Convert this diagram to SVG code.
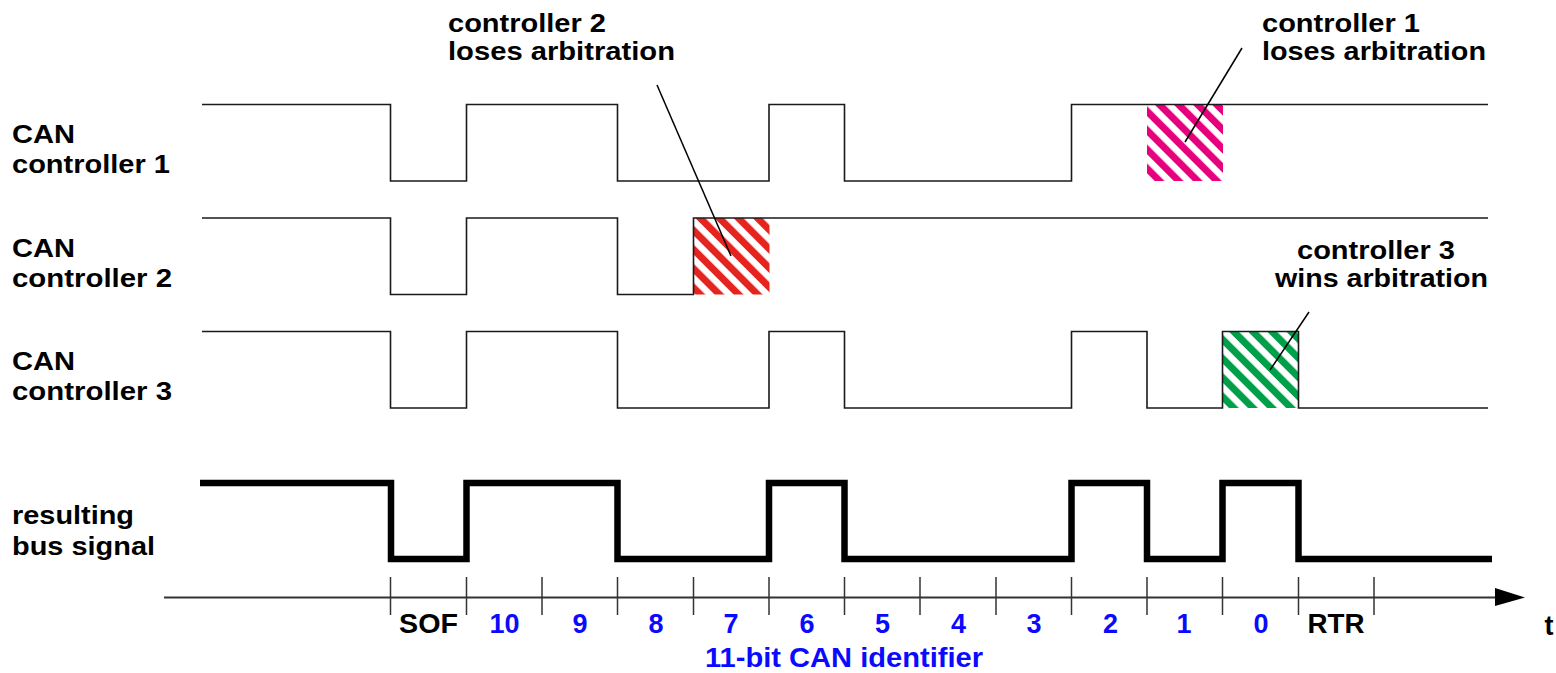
<svg xmlns="http://www.w3.org/2000/svg" width="1556" height="673" viewBox="0 0 1556 673">
<style>
  .lbl { font-family: "Liberation Sans", Arial, sans-serif; font-weight: bold; font-size: 25px; fill: #000; }
  .tick { font-family: "Liberation Sans", Arial, sans-serif; font-weight: bold; font-size: 27px; text-anchor: middle; }
  .blk { fill: #000; }
  .blu { fill: #0a0aff; }
  .sig { fill: none; stroke: #1a1a1a; stroke-width: 1.6; stroke-linejoin: miter; }
  .bus { fill: none; stroke: #000; stroke-width: 6.5; stroke-linejoin: miter; stroke-linecap: butt; }
  .axis { fill: none; stroke: #333; stroke-width: 2; }
  .tk { stroke: #333; stroke-width: 1.5; }
  .lead { stroke: #000; stroke-width: 1.5; fill: none; }
</style>
<defs>
  <pattern id="hatchPink" patternUnits="userSpaceOnUse" width="13.5" height="13.5" patternTransform="rotate(-45)">
    <rect width="13.5" height="13.5" fill="#fff"/><rect width="7" height="13.5" fill="#e6007e"/>
  </pattern>
  <pattern id="hatchRed" patternUnits="userSpaceOnUse" width="13.5" height="13.5" patternTransform="rotate(-45)">
    <rect width="13.5" height="13.5" fill="#fff"/><rect width="7" height="13.5" fill="#e52420"/>
  </pattern>
  <pattern id="hatchGreen" patternUnits="userSpaceOnUse" width="13.5" height="13.5" patternTransform="rotate(-45)">
    <rect width="13.5" height="13.5" fill="#fff"/><rect width="7" height="13.5" fill="#00a04a"/>
  </pattern>
</defs>

<g id="labels">
  <text class="lbl" x="12" y="143" textLength="63" lengthAdjust="spacingAndGlyphs">CAN</text>
  <text class="lbl" x="12" y="173" textLength="158" lengthAdjust="spacingAndGlyphs">controller 1</text>
  <text class="lbl" x="12" y="257" textLength="63" lengthAdjust="spacingAndGlyphs">CAN</text>
  <text class="lbl" x="12" y="287" textLength="160" lengthAdjust="spacingAndGlyphs">controller 2</text>
  <text class="lbl" x="12" y="370" textLength="63" lengthAdjust="spacingAndGlyphs">CAN</text>
  <text class="lbl" x="12" y="400" textLength="160" lengthAdjust="spacingAndGlyphs">controller 3</text>
  <text class="lbl" x="12" y="524" textLength="122" lengthAdjust="spacingAndGlyphs">resulting</text>
  <text class="lbl" x="12" y="555" textLength="143" lengthAdjust="spacingAndGlyphs">bus signal</text>
</g>

<g id="arbitration-boxes">
  <rect id="box-c1" x="1147" y="105" width="76" height="76" fill="url(#hatchPink)"/>
  <rect id="box-c2" x="693.5" y="218" width="76" height="76.5" fill="url(#hatchRed)"/>
  <rect id="box-c3" x="1222.5" y="331.5" width="76" height="76.5" fill="url(#hatchGreen)"/>
</g>

<g id="controller1">
  <path class="sig" d="M202,104.5 H390.5 V181 H466.5 V104.5 H617.5 V181 H769 V104.5 H844.5 V181 H1071.5 V104.5 H1488"/>
</g>
<g id="controller2">
  <path class="sig" d="M202,218 H390.5 V294.5 H466.5 V218 H617.5 V294.5 H693.5 V218 H1488"/>
</g>
<g id="controller3">
  <path class="sig" d="M202,331.5 H390.5 V408 H466.5 V331.5 H617.5 V408 H769 V331.5 H844.5 V408 H1071.5 V331.5 H1147 V408 H1222.5 V331.5 H1298.5 V408 H1488"/>
</g>
<g id="bus">
  <path class="bus" d="M200,483 H391 V559 H466.5 V483 H617.5 V559 H769 V483 H844.5 V559 H1071.5 V483 H1147 V559 H1222.5 V483 H1298.5 V559 H1492"/>
</g>

<g id="annotations">
  <text class="lbl" x="448" y="32" textLength="158" lengthAdjust="spacingAndGlyphs">controller 2</text>
  <text class="lbl" x="448" y="60" textLength="227" lengthAdjust="spacingAndGlyphs">loses arbitration</text>
  <text class="lbl" x="1262" y="32" textLength="158" lengthAdjust="spacingAndGlyphs">controller 1</text>
  <text class="lbl" x="1262" y="60" textLength="224" lengthAdjust="spacingAndGlyphs">loses arbitration</text>
  <text class="lbl" x="1297" y="259" textLength="158" lengthAdjust="spacingAndGlyphs">controller 3</text>
  <text class="lbl" x="1275" y="287" textLength="213" lengthAdjust="spacingAndGlyphs">wins arbitration</text>
</g>

<g id="connectors">
  <line class="lead" x1="657" y1="85" x2="731" y2="256"/>
  <line class="lead" x1="1242" y1="48" x2="1185" y2="142"/>
  <line class="lead" x1="1309" y1="312" x2="1270" y2="370"/>
</g>

<g id="time-axis">
  <line class="axis" x1="164" y1="597.5" x2="1497" y2="597.5"/>
  <polygon points="1495,588 1495,606 1525,597.5" fill="#000"/>
  <g class="tk">
    <line x1="390.5" y1="577" x2="390.5" y2="615"/>
    <line x1="466.5" y1="577" x2="466.5" y2="615"/>
    <line x1="542" y1="577" x2="542" y2="615"/>
    <line x1="617.5" y1="577" x2="617.5" y2="615"/>
    <line x1="693.5" y1="577" x2="693.5" y2="615"/>
    <line x1="769" y1="577" x2="769" y2="615"/>
    <line x1="844.5" y1="577" x2="844.5" y2="615"/>
    <line x1="920" y1="577" x2="920" y2="615"/>
    <line x1="996" y1="577" x2="996" y2="615"/>
    <line x1="1071.5" y1="577" x2="1071.5" y2="615"/>
    <line x1="1147" y1="577" x2="1147" y2="615"/>
    <line x1="1222.5" y1="577" x2="1222.5" y2="615"/>
    <line x1="1298.5" y1="577" x2="1298.5" y2="615"/>
    <line x1="1374" y1="577" x2="1374" y2="615"/>
  </g>
  <text class="tick blk" x="428.5" y="633" textLength="59" lengthAdjust="spacingAndGlyphs">SOF</text>
  <text class="tick blu" x="504.5" y="633">10</text>
  <text class="tick blu" x="580" y="633">9</text>
  <text class="tick blu" x="656" y="633">8</text>
  <text class="tick blu" x="731" y="633">7</text>
  <text class="tick blu" x="807" y="633">6</text>
  <text class="tick blu" x="882.5" y="633">5</text>
  <text class="tick blu" x="958.5" y="633">4</text>
  <text class="tick blu" x="1034" y="633">3</text>
  <text class="tick blu" x="1110.5" y="633">2</text>
  <text class="tick blu" x="1184" y="633">1</text>
  <text class="tick blu" x="1261" y="633">0</text>
  <text class="tick blk" x="1336" y="633" textLength="57" lengthAdjust="spacingAndGlyphs">RTR</text>
  <text class="tick blu" x="844" y="667" textLength="278" lengthAdjust="spacingAndGlyphs">11-bit CAN identifier</text>
  <text class="tick blk" x="1549" y="635">t</text>
</g>
</svg>
